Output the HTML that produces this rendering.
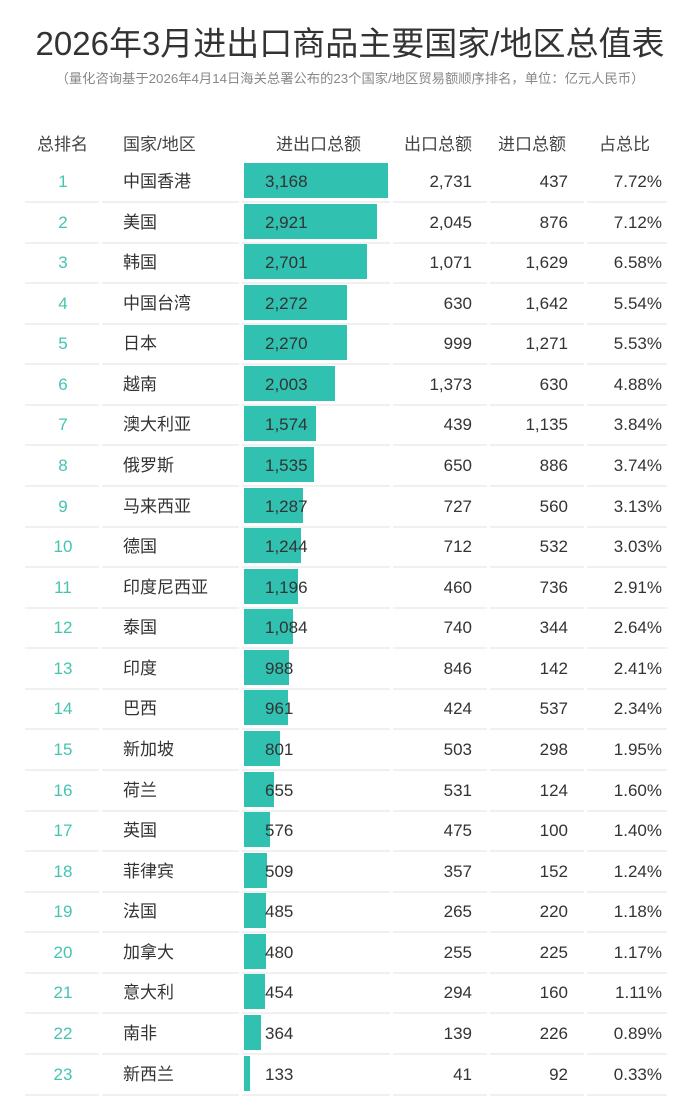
<!DOCTYPE html>
<html><head><meta charset="utf-8"><style>
body{margin:0;background:#fff;width:700px;height:1118px;position:relative;overflow:hidden;font-family:"Liberation Sans","Noto Sans CJK SC",sans-serif;color:#333}
.a{position:absolute;white-space:nowrap}
.t{left:0;width:700px;text-align:center;top:17px;font-size:33px;color:#333}
.s{left:0;width:700px;text-align:center;top:68px;font-size:13.3px;color:#888}
.h{top:130px;font-size:17px;color:#444}
.r{position:absolute;left:0;width:700px;height:41px}
.r div{position:absolute;top:9px;font-size:17px;line-height:20px}
.sep{position:absolute;height:2px;background:#f0f0f0;bottom:0}
</style></head><body>
<div class="a t">2026年3月进出口商品主要国家/地区总值表</div>
<div class="a s">（量化咨询基于2026年4月14日海关总署公布的23个国家/地区贸易额顺序排名，单位：亿元人民币）</div>
<div class="a h" style="left:37px">总排名</div>
<div class="a h" style="left:123px">国家/地区</div>
<div class="a h" style="left:276px">进出口总额</div>
<div class="a h" style="left:404px">出口总额</div>
<div class="a h" style="left:498px">进口总额</div>
<div class="a h" style="left:599px">占总比</div>
<div id="rows"></div>
<script>
var d=[["中国香港","3,168",3168,"2,731","437","7.72%"],["美国","2,921",2921,"2,045","876","7.12%"],["韩国","2,701",2701,"1,071","1,629","6.58%"],["中国台湾","2,272",2272,"630","1,642","5.54%"],["日本","2,270",2270,"999","1,271","5.53%"],["越南","2,003",2003,"1,373","630","4.88%"],["澳大利亚","1,574",1574,"439","1,135","3.84%"],["俄罗斯","1,535",1535,"650","886","3.74%"],["马来西亚","1,287",1287,"727","560","3.13%"],["德国","1,244",1244,"712","532","3.03%"],["印度尼西亚","1,196",1196,"460","736","2.91%"],["泰国","1,084",1084,"740","344","2.64%"],["印度","988",988,"846","142","2.41%"],["巴西","961",961,"424","537","2.34%"],["新加坡","801",801,"503","298","1.95%"],["荷兰","655",655,"531","124","1.60%"],["英国","576",576,"475","100","1.40%"],["菲律宾","509",509,"357","152","1.24%"],["法国","485",485,"265","220","1.18%"],["加拿大","480",480,"255","225","1.17%"],["意大利","454",454,"294","160","1.11%"],["南非","364",364,"139","226","0.89%"],["新西兰","133",133,"41","92","0.33%"]];
var h="";
d.forEach(function(r,i){
var top=162+i*40.57;var w=Math.max(4,r[2]/3168*144);
h+='<div class="r" style="top:'+top+'px">'+
'<div style="left:0;width:126px;text-align:center;color:#45c4b2;top:10px">'+(i+1)+'</div>'+
'<div style="left:123px;top:10px">'+r[0]+'</div>'+
'<div style="left:244px;top:1px;height:35px;width:'+w+'px;background:#30c1b1"></div>'+
'<div style="left:265px;top:10px">'+r[1]+'</div>'+
'<div style="right:228px;text-align:right;top:10px">'+r[3]+'</div>'+
'<div style="right:132px;text-align:right;top:10px">'+r[4]+'</div>'+
'<div style="right:38px;text-align:right;top:10px">'+r[5]+'</div>'+
'<span class="sep" style="left:25px;width:74px"></span><span class="sep" style="left:102px;width:137px"></span><span class="sep" style="left:242px;width:148px"></span><span class="sep" style="left:393px;width:94px"></span><span class="sep" style="left:490px;width:94px"></span><span class="sep" style="left:587px;width:80px"></span>'+
'</div>';});
document.getElementById("rows").innerHTML=h;
</script>
</body></html>
